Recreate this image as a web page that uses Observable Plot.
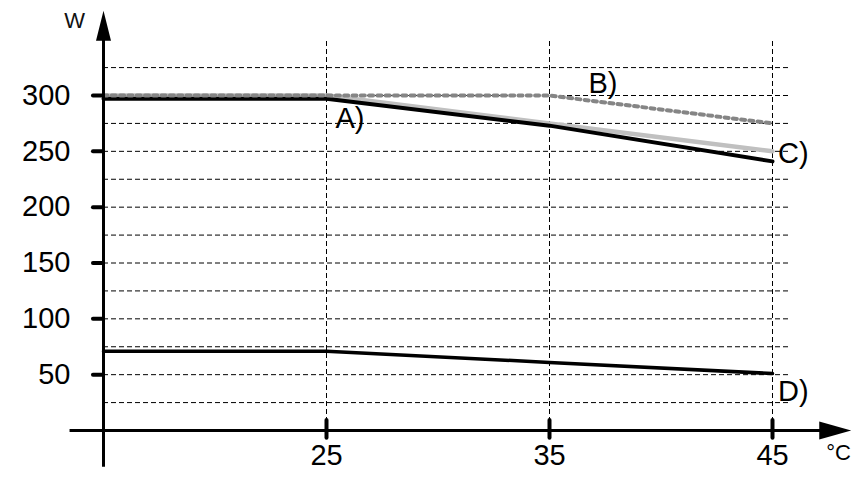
<!DOCTYPE html>
<html>
<head>
<meta charset="utf-8">
<script src="https://cdn.jsdelivr.net/npm/d3@7"></script>
<script src="https://cdn.jsdelivr.net/npm/@observablehq/plot@0.6"></script>
<style>
  html, body { margin: 0; padding: 0; background: #fff; }
</style>
</head>
<body>
<div id="chart"></div>
<script>
// Data
const temps = [15, 25, 35, 45];
const seriesA = [297, 297, 273, 241];
const seriesB = [300, 300, 300, 275];
const seriesC = [300, 300, 275, 250];
const seriesD = [71, 71, 61, 51];
const xTicks = [25, 35, 45];
const yTicks = [50, 100, 150, 200, 250, 300];
const yGrid = [25, 50, 75, 100, 125, 150, 175, 200, 225, 250, 275, 300, 325];
const seriesLabels = ["A)", "B)", "C)", "D)"];
const labelX = [25.4, 36.75, 45.25, 45.25];
const labelY = [279.5, 310.8, 248.2, 35.1];
const yUnit = "W";
const xUnit = "°C";

const rows = (vals) => temps.map((t, i) => ({t, v: vals[i]}));
const labelRows = seriesLabels.map((s, i) => ({s, x: labelX[i], y: labelY[i]}));

const arrowUp = {draw(ctx) { ctx.moveTo(0, 0); ctx.lineTo(-7.5, 30); ctx.lineTo(7.5, 30); ctx.closePath(); }};
const arrowRight = {draw(ctx) { ctx.moveTo(0, 0); ctx.lineTo(-9, 32); ctx.lineTo(9, 32); ctx.closePath(); }};

const chart = Plot.plot({
  width: 866,
  height: 477,
  marginLeft: 103,
  marginRight: 94,
  marginTop: 95,
  marginBottom: 47,
  style: {fontFamily: "'Liberation Sans', Arial, sans-serif", background: "#fff", color: "#000"},
  x: {domain: [15, 45]},
  y: {domain: [0, 300]},
  marks: [
    // dashed grid
    Plot.ruleY(yGrid, {x1: 15, x2: 45.8, stroke: "#000", strokeWidth: 1, strokeDasharray: "5,3"}),
    Plot.ruleX(xTicks, {y1: 0, y2: 350, stroke: "#000", strokeWidth: 1, strokeDasharray: "5,3"}),
    // series
    Plot.line(rows(seriesC), {x: "t", y: "v", stroke: "#c0c0c0", strokeWidth: 4.5}),
    Plot.line(rows(seriesA), {x: "t", y: "v", stroke: "#000", strokeWidth: 4}),
    Plot.line(rows(seriesD), {x: "t", y: "v", stroke: "#000", strokeWidth: 3.5}),
    Plot.line(rows(seriesB), {x: "t", y: "v", stroke: "#858585", strokeWidth: 4, strokeDasharray: "4,4.3"}),
    // axes lines
    Plot.ruleY([0], {x1: 13.5, x2: 47.5, stroke: "#000", strokeWidth: 3}),
    Plot.ruleX([15], {y1: -33, y2: 360, stroke: "#000", strokeWidth: 3}),
    Plot.dot([{x: 15, y: 376}], {x: "x", y: "y", symbol: arrowUp, fill: "#000", stroke: null}),
    Plot.dot([{x: 48.53, y: 0}], {x: "x", y: "y", symbol: arrowRight, rotate: 90, fill: "#000", stroke: null}),
    // ticks
    Plot.ruleY(yTicks, {x1: 14.55, x2: 15, stroke: "#000", strokeWidth: 4, strokeLinecap: "round"}),
    Plot.ruleX(xTicks, {y1: -7, y2: 9, stroke: "#000", strokeWidth: 4, strokeLinecap: "round"}),
    Plot.axisY(yTicks, {tickSize: 0, tickPadding: 33, fontSize: 29, label: null}),
    Plot.axisX(xTicks, {tickSize: 0, tickPadding: 14, fontSize: 29, label: null}),
    // labels
    Plot.text(labelRows, {x: "x", y: "y", text: "s", textAnchor: "start", fontSize: 29, fill: "#000"}),
    Plot.text([yUnit], {x: 13.7, y: 366.5, text: d => d, fontSize: 22, fill: "#111"}),
    Plot.text([xUnit], {x: 47.96, y: -20.3, text: d => d, fontSize: 22, fill: "#000"})
  ]
});
document.getElementById("chart").appendChild(chart);
</script>
</body>
</html>
